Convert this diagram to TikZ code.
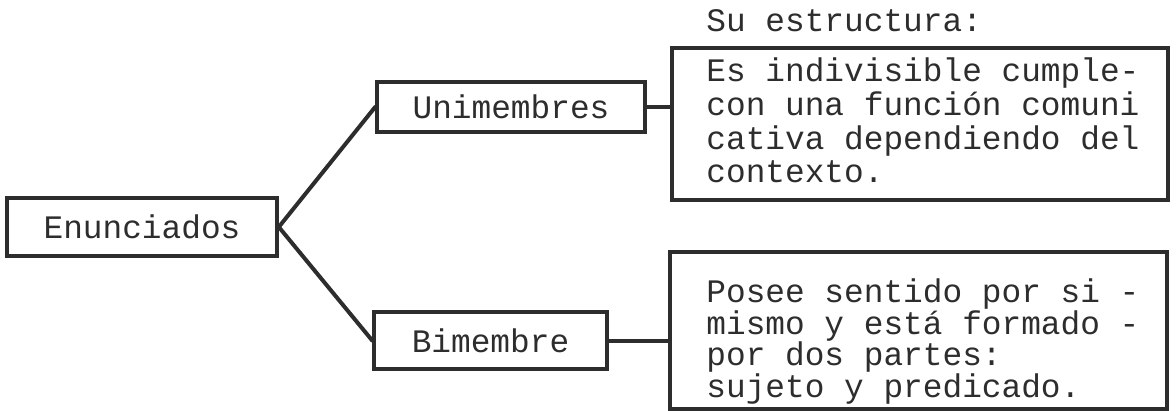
\documentclass[tikz,border=0pt]{standalone}
\usepackage{fontspec}
\setmonofont{Liberation Mono}

\begin{document}
\begin{tikzpicture}[x=0.5pt, y=-0.5pt]
    % 定义颜色
    \definecolor{tinta}{RGB}{45, 45, 45}
    % --- 设置全局样式 ---
    % 方框样式
    \tikzset{Caja/.style = {
        shape=rectangle,        % 形状：矩形
        draw=tinta,             % 边框颜色
        line width=1.8pt,       % 边框粗细
        inner sep=0pt,          % 内部边距
        text=tinta,             % 文字颜色
        font=\ttfamily\fontsize{16.4}{17}\selectfont
    }}
    % 文字样式
    \tikzset{Texto/.style = {
        anchor=base west,       % 以末行基线定位
        inner sep=0pt,
        align=left,             % 左对齐
        text=tinta,
        font=\ttfamily\fontsize{16.4}{16.85}\selectfont
    }}
    % 连线样式
    \tikzset{Linea/.style = {
        line width=2pt,         % 线条粗细
        draw=tinta,             % 线条颜色
        line cap=round
    }}

    \useasboundingbox (0,0) rectangle (1176,411);

    % --- 定义节点 ---
    % 左侧节点
    \node[Caja, minimum width=135pt, minimum height=29pt] (enun) at (142,227) {Enunciados};

    % 中间节点
    \node[Caja, minimum width=134pt, minimum height=25pt] (uni) at (511,107) {Unimembres};
    \node[Caja, minimum width=116.5pt, minimum height=28.5pt] (bim) at (490.5,340.5) {Bimembre};

    % 右侧方框
    \node[Caja, minimum width=248pt, minimum height=76pt] (estrA) at (920,124) {};
    \node[Caja, minimum width=248.5pt, minimum height=78.5pt] (estrB) at (918.5,330.5) {};

    % 方框文字
    \node[Texto] (titulo) at (706,32) {Su estructura:};
    \node[Texto] (textoA) at (706,183) {Es indivisible cumple-\\con una función comuni\\cativa dependiendo del\\contexto.};
    \node[Texto, font=\ttfamily\fontsize{16.4}{15.75}\selectfont] (textoB) at (706,397) {Posee sentido por si -\\mismo y está formado -\\por dos partes:\\sujeto y predicado.};

    % --- 定义连线 ---
    \draw[Linea] (enun.east) -- (uni.west);  % Enunciados -> Unimembres
    \draw[Linea] (enun.east) -- (bim.west);  % Enunciados -> Bimembre
    \draw[Linea] (uni.east) -- (uni.east -| estrA.west);  % Unimembres -> 方框
    \draw[Linea] (bim.east) -- (bim.east -| estrB.west);  % Bimembre -> 方框

\end{tikzpicture}
\end{document}
